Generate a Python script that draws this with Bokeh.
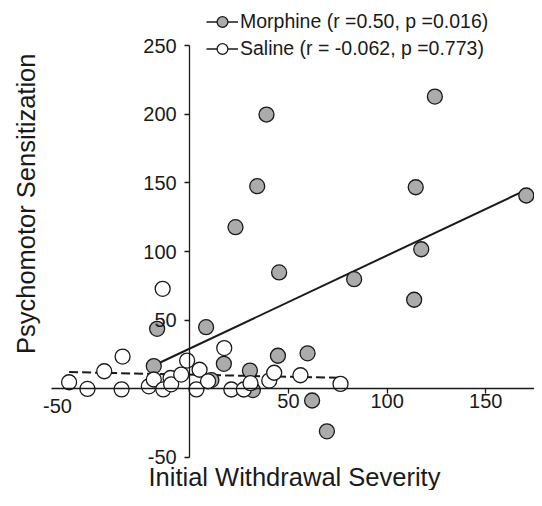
from bokeh.plotting import figure
from bokeh.models import Range1d, LinearAxis, FixedTicker, Legend, LegendItem, Label
from bokeh.embed import file_html
from bokeh.resources import INLINE
import math

# ---- data ----
morphine_x = [124.2, 38.9, 34.2, 114.5, 23.2, 117.3, 45.3, 83.3, 113.7, 170.5,
              8.3, -16.5, -18.2, 17.3, 30.5, 44.7, 59.7, 11.0, 32.0, 62.0, 69.5]
morphine_y = [213.0, 199.9, 147.7, 146.9, 117.8, 101.7, 84.8, 79.9, 64.9, 140.9,
              44.9, 43.7, 16.6, 18.2, 13.3, 24.1, 25.9, 6.4, -0.9, -8.5, -31.0]

saline_x = [-61.1, -51.8, -43.3, -34.0, -34.5, -20.7, -18.2, -13.4, -13.7, -9.7,
            -9.4, -4.3, -1.3, 3.4, 5.0, 9.3, 17.5, 21.1, 27.4, 30.8,
            40.3, 42.8, 56.1, 76.4]
saline_y = [4.8, -0.1, 12.8, 23.5, -0.4, 1.8, 6.8, -0.4, 72.9, 7.9,
            3.3, 10.4, 20.6, -0.4, 13.9, 5.5, 29.7, -0.5, -0.5, 4.1,
            6.0, 11.7, 9.9, 3.6]

morphine_fit_x = [-18.2, 170.5]
morphine_fit_y = [17.0, 145.0]
saline_fit_x = [-61.1, 76.4]
saline_fit_y = [12.2, 8.0]

x_ticks = [50, 100, 150]
x_left_tick = [-67]
x_left_label = ["-50"]
y_ticks = [-50, 50, 100, 150, 200, 250]
legend_labels = ["Morphine (r =0.50, p =0.016)", "Saline (r = -0.062, p =0.773)"]
x_title = "Initial Withdrawal Severity"
y_title = "Psychomotor Sensitization"

FONT = "Liberation Sans"
INK = "#1a1a1a"
GRAY = "#ababab"

W, H = 534, 490
p = figure(width=W, height=H, output_backend="svg", toolbar_location=None,
           x_range=Range1d(-95.85, 174.67), y_range=Range1d(-74.1, 283.0),
           x_axis_type=None, y_axis_type=None,
           min_border_left=0, min_border_right=0, min_border_top=0, min_border_bottom=0)
p.outline_line_color = None
p.background_fill_color = "white"
p.border_fill_color = "white"

def style_axis(ax):
    ax.axis_line_color = INK
    ax.axis_line_width = 1.3
    ax.major_tick_line_color = INK
    ax.major_tick_line_width = 1.3
    ax.major_tick_in = 0
    ax.minor_tick_in = 0
    ax.minor_tick_out = 0
    ax.major_label_text_font = FONT
    ax.major_label_text_font_size = "20px"
    ax.major_label_text_color = INK

yax = LinearAxis(fixed_location=0, ticker=FixedTicker(ticks=y_ticks), bounds=(-50, 250),
                 major_label_overrides={t: str(t) for t in y_ticks})
style_axis(yax)
yax.major_tick_out = 5
yax.major_label_standoff = 8
p.add_layout(yax, "left")

xax = LinearAxis(fixed_location=0, ticker=FixedTicker(ticks=x_ticks), bounds=(-70.2, 174.67))
style_axis(xax)
xax.major_tick_out = 5
xax.major_label_standoff = 0
p.add_layout(xax, "below")

xax2 = LinearAxis(fixed_location=0, ticker=FixedTicker(ticks=x_left_tick),
                  major_label_overrides={t: l for t, l in zip(x_left_tick, x_left_label)})
style_axis(xax2)
xax2.axis_line_color = None
xax2.major_tick_line_color = None
xax2.major_tick_out = 0
xax2.major_label_standoff = 10
p.add_layout(xax2, "below")

# regression lines
p.line(morphine_fit_x, morphine_fit_y, line_color=INK, line_width=2)
p.line(saline_fit_x, saline_fit_y, line_color=INK, line_width=2, line_dash="9 4")

r_m = p.scatter(morphine_x, morphine_y, size=15, fill_color=GRAY,
                line_color=INK, line_width=1.3)
r_s = p.scatter(saline_x, saline_y, size=15, fill_color="white",
                line_color=INK, line_width=1.3)

# legend helper lines (not visible in the plot, only drawn in the legend)
nan = float("nan")
l_m = p.line(x=[nan, nan], y=[nan, nan], line_color=INK, line_width=1.3)
l_s = p.line(x=[nan, nan], y=[nan, nan], line_color=INK, line_width=1.3)

legend = Legend(items=[LegendItem(label=legend_labels[0], renderers=[l_m, r_m]),
                       LegendItem(label=legend_labels[1], renderers=[l_s, r_s])],
                location=(206, H - 62), orientation="vertical",
                glyph_width=32, glyph_height=27, spacing=0, label_standoff=2,
                padding=0, margin=0, border_line_color=None,
                background_fill_alpha=0,
                label_text_font=FONT, label_text_font_size="19.5px",
                label_text_color=INK)
p.add_layout(legend)

p.add_layout(Label(x=148, y=H - 476, x_units="screen", y_units="screen", text=x_title,
                   text_font=FONT, text_font_size="25.5px", text_color=INK,
                   text_align="left", text_baseline="alphabetic"))
p.add_layout(Label(x=25, y=H - 203.3, x_units="screen", y_units="screen", text=y_title,
                   angle=math.pi / 2, text_font=FONT, text_font_size="25.5px",
                   text_color=INK, text_align="center", text_baseline="alphabetic"))

open("out.html", "w").write(file_html(p, INLINE))
